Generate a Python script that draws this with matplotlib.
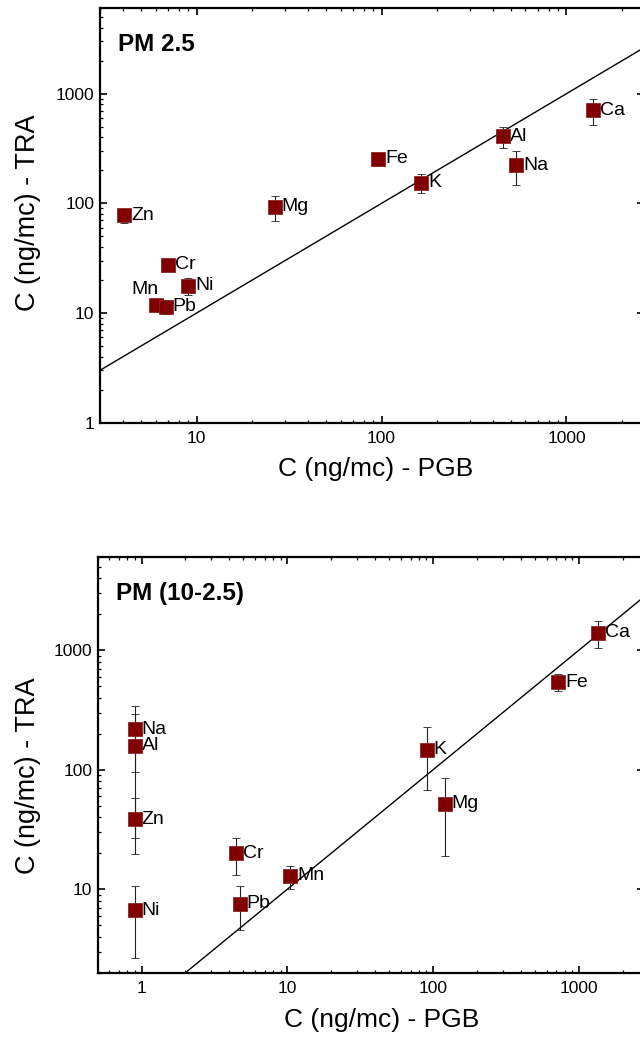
import numpy as np
import matplotlib.pyplot as plt
from matplotlib.ticker import NullFormatter

# 字体
plt.rcParams['font.family'] = ['Liberation Sans', 'DejaVu Sans']

# PM 2.5 数据
el_25 = ['Zn', 'Cr', 'Ni', 'Mn', 'Pb', 'Mg', 'Fe', 'K', 'Al', 'Na', 'Ca']
pgb_25 = [4.06, 7.0, 9.0, 6.0, 6.8, 26.4, 96, 164, 453, 533, 1386]
tra_25 = [77.8, 27.4, 17.7, 11.9, 11.4, 93.3, 255, 154, 410, 223, 705]
err_25 = [11, 2, 3, 1.5, 1.7, 24.5, 35, 31, 90, 75, 190]

# PM 10-2.5 数据
el_10 = ['Na', 'Al', 'Zn', 'Ni', 'Cr', 'Pb', 'Mn', 'K', 'Mg', 'Fe', 'Ca']
pgb_10 = [0.895, 0.895, 0.895, 0.895, 4.43, 4.70, 10.5, 90.1, 120, 724, 1355]
tra_10 = [219, 159, 38.6, 6.67, 20.0, 7.57, 12.9, 147, 52.1, 542, 1407]
err_10 = [124, 132, 19, 4.0, 6.8, 3.0, 2.8, 80, 33, 90, 365]

# 1:1 线
line_x = [0.1, 10000]


def draw_panel(ax, el, x, y, err, title, xlim, ylim, xticks, yticks, special=None):
    ax.plot(line_x, line_x, color='black', lw=1.0, zorder=1)
    ax.errorbar(x, y, yerr=err, fmt='s', ms=9.7, mfc='#800000', mec='#8c2525', mew=0.6,
                ecolor='#222222', elinewidth=0.8, capsize=3.2, capthick=0.8, zorder=3)
    for name, xi, yi in zip(el, x, y):
        if special and name in special:
            dx, dy = special[name]
            ax.annotate(name, (xi, yi), xytext=(dx, dy), textcoords='offset points',
                        ha='center', va='center', fontsize=14)
        else:
            ax.annotate(name, (xi, yi), xytext=(5, 0), textcoords='offset points',
                        ha='left', va='center', fontsize=14)
    ax.set_xscale('log')
    ax.set_yscale('log')
    ax.set_xlim(xlim)
    ax.set_ylim(ylim)
    ax.set_xticks(xticks)
    ax.set_xticklabels([str(t) for t in xticks])
    ax.set_yticks(yticks)
    ax.set_yticklabels([str(t) for t in yticks])
    ax.xaxis.set_minor_formatter(NullFormatter())
    ax.yaxis.set_minor_formatter(NullFormatter())
    ax.tick_params(which='both', direction='in', top=True, right=True, labelsize=12.5)
    ax.tick_params(which='major', length=5, width=1.2)
    ax.tick_params(which='minor', length=2.5, width=0.9)
    ax.tick_params(axis='x', pad=6)
    ax.tick_params(axis='y', pad=4)
    for s in ax.spines.values():
        s.set_linewidth(1.6)
    ax.text(0.033, 0.898, title, transform=ax.transAxes, fontsize=17.5, fontweight='bold',
            ha='left', va='baseline')
    ax.set_xlabel('C (ng/mc) - PGB', fontsize=19)
    ax.set_ylabel('C (ng/mc) - TRA', fontsize=19.5)


fig = plt.figure(figsize=(6.4, 10.41), dpi=100)

ax1 = fig.add_axes([0.15625, 0.594, 0.85, 0.398])
draw_panel(ax1, el_25, pgb_25, tra_25, err_25, 'PM 2.5', (3, 2625), (1, 6000),
           [10, 100, 1000], [1, 10, 100, 1000], special={'Mn': (-8, 11)})
ax1.xaxis.set_label_coords(0.506, -0.082)
ax1.yaxis.set_label_coords(-0.108, 0.506)

ax2 = fig.add_axes([0.1527, 0.0656, 0.8536, 0.3991])
draw_panel(ax2, el_10, pgb_10, tra_10, err_10, 'PM (10-2.5)', (0.5, 2800), (2, 6000),
           [1, 10, 100, 1000], [10, 100, 1000])
ax2.xaxis.set_label_coords(0.52, -0.084)
ax2.yaxis.set_label_coords(-0.104, 0.4735)

plt.savefig('out.png', dpi=100)
